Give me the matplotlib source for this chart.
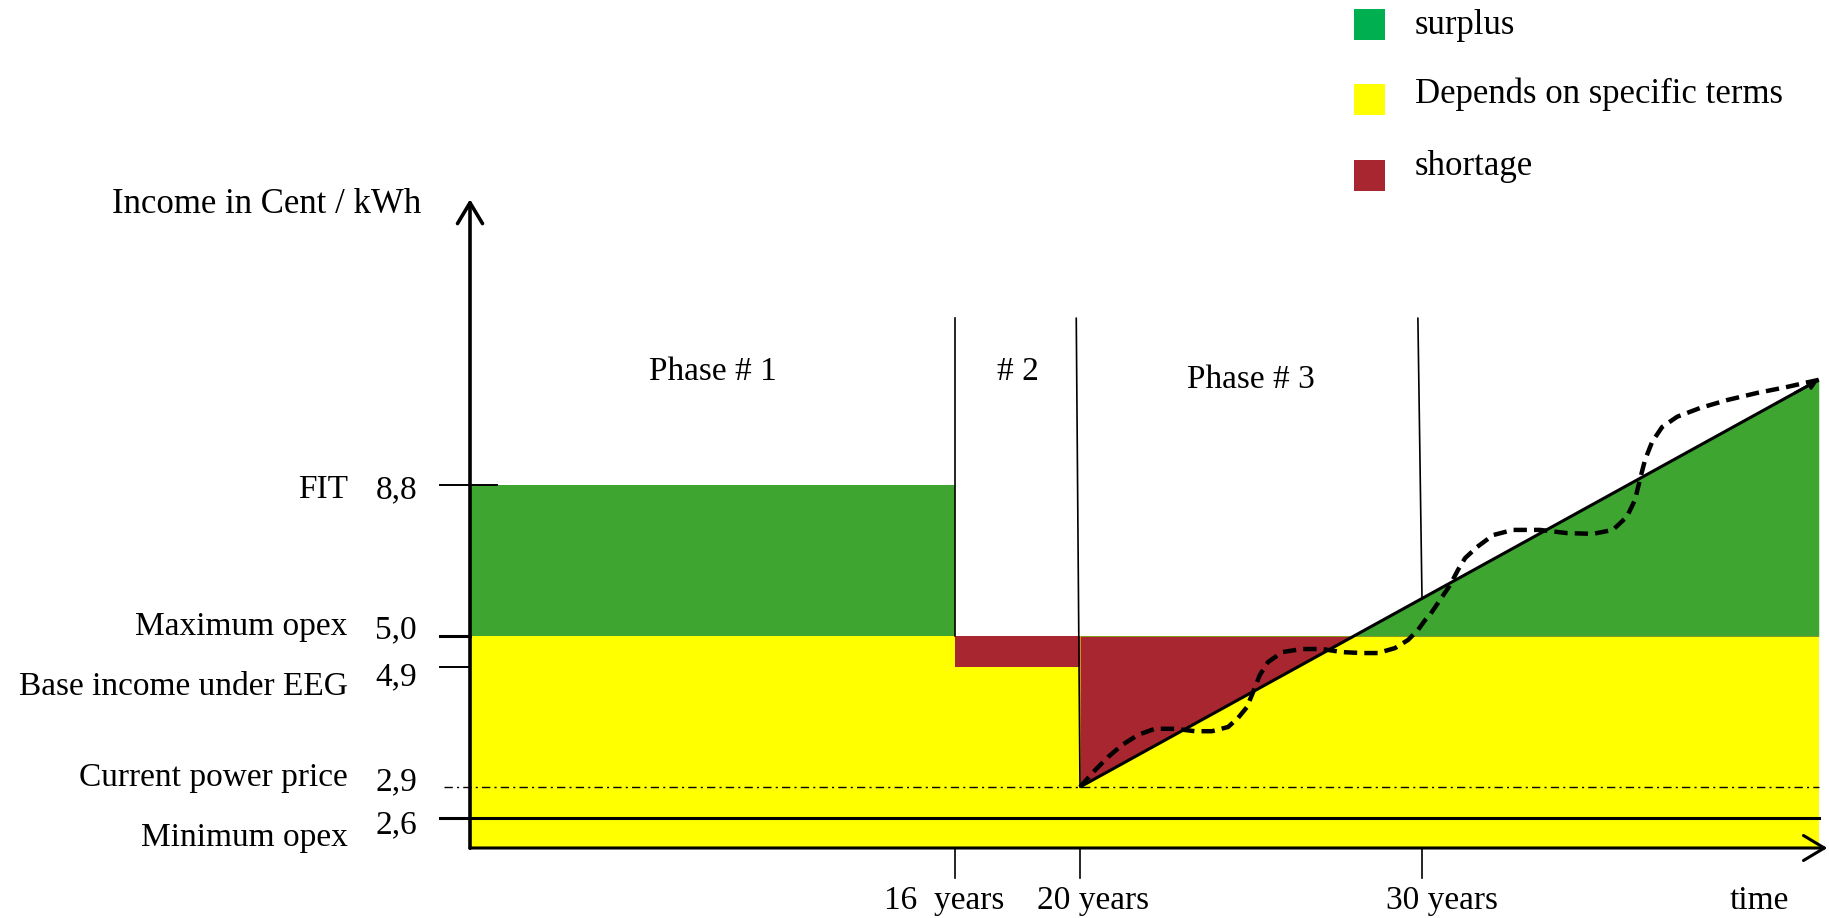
import numpy as np
import matplotlib
matplotlib.use("Agg")
import matplotlib.pyplot as plt
from matplotlib.patches import Rectangle

# ---------------- data ----------------
phase_bounds = [0, 16, 20, 30]
end_year = 41.6
fit_value = 8.8
max_opex = 5.0
base_eeg = 4.9
power_price = 2.9
min_opex = 2.6
axis_base = 0.0

ytick_values = [8.8, 5.0, 4.9, 2.9, 2.6]
ytick_labels = ["8,8", "5,0", "4,9", "2,9", "2,6"]
level_names = ["FIT", "Maximum opex", "Base income under EEG",
               "Current power price", "Minimum opex"]

xtick_years = [16, 20, 30]
xtick_labels = ["16  years", "20 years", "30 years"]
phase_names = ["Phase # 1", "# 2", "Phase # 3"]

trend_years = [20, 41.6]
trend_values = [2.9, 11.45]

price_years = [20.00, 20.44, 20.82, 21.23, 21.70, 22.19, 22.78, 23.36, 23.86,
               24.33, 24.62, 24.88, 25.06, 25.26, 25.50, 25.91, 26.49, 27.08,
               27.66, 28.25, 28.71, 29.21, 29.59, 29.88, 30.09, 30.23, 30.53,
               30.82, 31.05, 31.26, 31.61, 32.08, 32.66, 33.45, 34.24, 35.00,
               35.58, 35.99, 36.23, 36.37, 36.52, 36.73, 37.02, 37.46, 38.13,
               38.92, 39.80, 40.67, 41.60]
price_values = [2.90, 3.18, 3.40, 3.60, 3.77, 3.87, 3.87, 3.83, 3.83,
                3.90, 4.05, 4.23, 4.48, 4.77, 4.916, 4.948, 4.958, 4.958,
                4.948, 4.945, 4.945, 4.961, 4.987, 5.15, 5.40, 5.53, 5.91,
                6.28, 6.66, 6.96, 7.24, 7.54, 7.67, 7.67, 7.59, 7.57,
                7.67, 8.00, 8.43, 8.93, 9.43, 9.89, 10.26, 10.52, 10.74,
                10.94, 11.12, 11.27, 11.45]

legend_labels = ["surplus", "Depends on specific terms", "shortage"]

# ---------------- style ----------------
GREEN = "#3DA530"
YELLOW = "#FFFF00"
RED = "#A8262F"
LEG_GREEN = "#00B050"
FONT = "Liberation Serif"
FS = 24

W, H = 1829, 918
fig = plt.figure(figsize=(W / 100, H / 100), dpi=100)
ax = fig.add_axes([0, 0, 1, 1])

# schematic (non-linear) scales of the hand-drawn sketch
XK = np.array([-115.5, -15.5, 0, 16, 20, 30, 41.9, 141.9])
XP = np.array([-3030, 0, 470, 955, 1080, 1422, 1829, 1829 + 3420])
YK = np.array([-106, -6, 0, 2.6, 2.9, 4.9, 5.0, 8.8, 21.02, 121.02])
YP = np.array([-1170, 0, 70, 100, 131, 251, 282, 433, 918, 918 + 3970])

fx = lambda v: np.interp(v, XK, XP)
fxi = lambda p: np.interp(p, XP, XK)
fy = lambda v: np.interp(v, YK, YP)
fyi = lambda p: np.interp(p, YP, YK)

ax.set_xscale("function", functions=(fx, fxi))
ax.set_yscale("function", functions=(fy, fyi))
ax.set_xlim(-15.5, 41.9)
ax.set_ylim(-6, 21.02)
ax.axis("off")


def on_trend(year):
    """value of the straight trend line (straight in the drawing) at a year"""
    p = np.interp(fx(year), fx(np.array(trend_years)), fy(np.array(trend_values)))
    return float(fyi(p))


# ---------------- fills ----------------
p0, p1, p2, p3 = phase_bounds
# yellow base band under maximum opex
ax.fill_between([p0, end_year], axis_base, max_opex, color=YELLOW, lw=0, zorder=1)
# phase 1 surplus, phase 2 shortage
ax.fill_between([p0, p1], max_opex, fit_value, color=GREEN, lw=0, zorder=1.1)
ax.fill_between([p1, p2], base_eeg, max_opex, color=RED, lw=0, zorder=1.1)
# phase 3: between trend line and maximum opex
red3 = ax.fill_between(trend_years, trend_values, max_opex, color=RED, lw=0, zorder=1.2)
red3.set_clip_path(Rectangle((p2, axis_base), end_year - p2, max_opex - axis_base,
                             transform=ax.transData))
grn3 = ax.fill_between(trend_years, trend_values, max_opex, color=GREEN, lw=0, zorder=1.2)
grn3.set_clip_path(Rectangle((p2, max_opex), end_year - p2, 20 - max_opex,
                             transform=ax.transData))

# ---------------- reference lines ----------------
ax.plot([-1, 0.9], [fit_value] * 2, color="k", lw=1.4, zorder=3)
ax.plot([-1, 0], [max_opex] * 2, color="k", lw=2.2, zorder=3)
ax.plot([-1, 0], [base_eeg] * 2, color="k", lw=1.4, zorder=3)
ax.plot([-0.85, end_year], [power_price] * 2, color="k", lw=1.0,
        ls=(0, (6, 3, 1.5, 3)), zorder=3)
ax.plot([-1, end_year], [min_opex] * 2, color="k", lw=2.2, zorder=3)

# phase separators
phase_top = 13.0
ax.plot([p1, p1], [phase_top, max_opex], color="k", lw=1.2, zorder=3)
ax.plot([p2 - 0.12, p2], [phase_top, power_price], color="k", lw=1.2, zorder=3)
ax.plot([p3 - 0.12, p3], [phase_top, on_trend(p3)], color="k", lw=1.2, zorder=3)
for yr in xtick_years:
    ax.plot([yr, yr], [axis_base, -2.6], color="k", lw=1.2, zorder=3)

# trend line + price curve
ax.plot(trend_years, trend_values, color="k", lw=2.2, zorder=4,
        solid_capstyle="butt")
ax.annotate("", xy=(trend_years[-1], trend_values[-1]),
            xytext=(40.9, on_trend(40.9)),
            arrowprops=dict(arrowstyle="-|>", color="k", lw=2,
                            mutation_scale=14, shrinkA=0, shrinkB=0), zorder=5)
ax.plot(price_years, price_values, color="k", lw=3.2, ls=(0, (3, 1.6)),
        zorder=4, solid_joinstyle="round", dash_joinstyle="round")

# axes arrows
ax.annotate("", xy=(0, 16.0), xytext=(0, axis_base - 0.02),
            arrowprops=dict(arrowstyle="->,head_length=0.5,head_width=0.3",
                            color="k", lw=2.6, mutation_scale=30,
                            shrinkA=0, shrinkB=0), zorder=6)
ax.annotate("", xy=(41.85, axis_base), xytext=(0, axis_base),
            arrowprops=dict(arrowstyle="->,head_length=0.5,head_width=0.3",
                            color="k", lw=2.2, mutation_scale=30,
                            shrinkA=0, shrinkB=0), zorder=6)

# ---------------- texts ----------------
tk = dict(fontsize=FS, family=FONT, color="k")
name_dy = [-5, 9, -20, 9, -20]
value_dy = [-5, 6, -10, 5, -7]
for val, lab, name, ndy, vdy in zip(ytick_values, ytick_labels, level_names,
                                     name_dy, value_dy):
    ax.annotate(name, xy=(-4.03, val), xytext=(0, ndy), textcoords="offset pixels",
                ha="right", va="center", **tk)
    ax.annotate(lab, xy=(-1.75, val), xytext=(0, vdy), textcoords="offset pixels",
                ha="right", va="center", **tk)

label_dx = [-11, 13, 20]
for yr, lab, dx in zip(xtick_years, xtick_labels, label_dx):
    ax.annotate(lab, xy=(yr, axis_base), xytext=(dx, -61), textcoords="offset pixels",
                ha="center", va="baseline", **tk)
ax.annotate("time", xy=(39.85, axis_base), xytext=(0, -61), textcoords="offset pixels",
            ha="center", va="baseline", **tk)

phase_mid = [(p0 + p1) / 2, (p1 + p2) / 2, (p2 + p3) / 2]
phase_base = [H - 380, H - 380, H - 388]
for mid, name, yb in zip(phase_mid, phase_names, phase_base):
    ax.annotate(name, xy=(mid, yb), xycoords=("data", "figure pixels"),
                ha="center", va="baseline", **tk)

tk_big = dict(tk, fontsize=25)
fig.text(112 / W, 1 - 213 / H, "Income in Cent / kWh", ha="left", va="baseline", **tk_big)

# ---------------- legend ----------------
leg_colors = [LEG_GREEN, YELLOW, RED]
sq_top = [9, 84, 160]
txt_base = [34, 103, 175]
for c, lab, t, b in zip(leg_colors, legend_labels, sq_top, txt_base):
    fig.add_artist(Rectangle((1354 / W, 1 - (t + 31) / H), 31 / W, 31 / H,
                             transform=fig.transFigure, color=c, lw=0))
    fig.text(1415 / W, 1 - b / H, lab, ha="left", va="baseline", **tk_big)

fig.savefig("out.png", dpi=100)
